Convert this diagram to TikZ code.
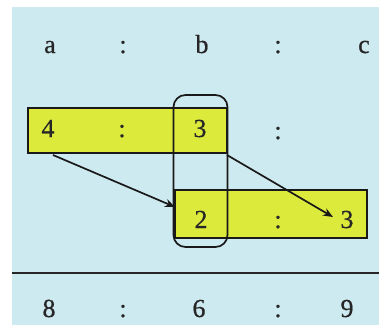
\documentclass[tikz,border=0pt]{standalone}
\usepackage{fontspec}
\setmainfont{Liberation Serif}
\newfontface\lblfont{Liberation Serif}[FakeBold=0.6]
\usetikzlibrary{arrows.meta}
\definecolor{bgblue}{RGB}{206,234,241}
\definecolor{ybox}{RGB}{220,234,60}
\tikzset{
  lbl/.style={font=\lblfont\fontsize{26}{30}\selectfont, text=black!85, inner sep=0pt, anchor=base},
  ybar/.style={fill=ybox, draw=black!90, line width=1.7pt},
  conn/.style={-{Stealth[length=10pt,width=8pt]}, line width=1.7pt, draw=black!90},
}
\begin{document}
\begin{tikzpicture}[x=1pt,y=-1pt]
\useasboundingbox (0,0) rectangle (379,325);
\fill[bgblue] (12,7) rectangle (379,325);
% yellow bars
\path[ybar] (28,108) rectangle (227,153);
\path[ybar] (175,190) rectangle (367,238);
% rounded vertical box
\node[draw=black!90, line width=1.7pt, rounded corners=12pt, minimum width=54pt, minimum height=152pt, inner sep=0pt] (col) at (200.5,171) {};
% header row
\node[lbl] (ha) at (50,53) {a};
\node[lbl] (hc1) at (123,53) {:};
\node[lbl] (hb) at (202,53) {b};
\node[lbl] (hc2) at (278,53) {:};
\node[lbl] (hc) at (364,53) {c};
% row 2
\node[lbl] (r4) at (48,137) {4};
\node[lbl] (r2c1) at (122,137) {:};
\node[lbl] (r3a) at (200,137) {3};
\node[lbl] (r2c2) at (278,139) {:};
% row 3
\node[lbl] (r2) at (201,228) {2};
\node[lbl] (r3c) at (278,228) {:};
\node[lbl] (r3b) at (347,228) {3};
% arrows
\coordinate (s1) at (53,155);
\coordinate (e1) at (175,207);
\coordinate (s2) at (227,155);
\coordinate (e2) at (333,217);
\draw[conn] (s1) -- (e1);
\draw[conn] (s2) -- (e2);
% rule
\coordinate (l1) at (12,273);
\coordinate (l2) at (379,273);
\draw[line width=2.2pt, black!85] (l1) -- (l2);
% bottom row
\node[lbl] (b8) at (49,317) {8};
\node[lbl] (bc1) at (123,317) {:};
\node[lbl] (b6) at (199,317) {6};
\node[lbl] (bc2) at (278,317) {:};
\node[lbl] (b9) at (347,317) {9};
\end{tikzpicture}
\end{document}
